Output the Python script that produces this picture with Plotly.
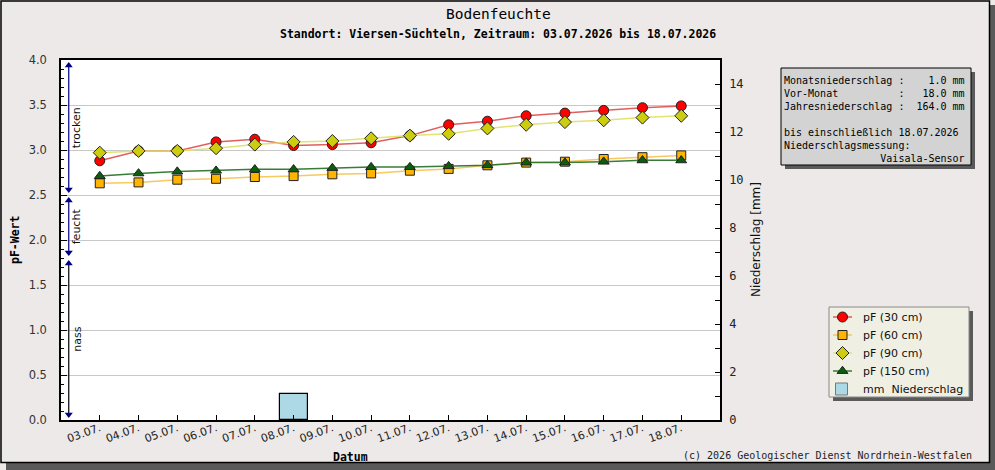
import plotly.graph_objects as go

# ---------------- data ----------------
dates = ["03.07.", "04.07.", "05.07.", "06.07.", "07.07.", "08.07.", "09.07.", "10.07.",
         "11.07.", "12.07.", "13.07.", "14.07.", "15.07.", "16.07.", "17.07.", "18.07."]
pf_30 = [2.88, 2.99, 2.99, 3.09, 3.12, 3.05, 3.06, 3.08, 3.16, 3.28, 3.32, 3.38, 3.41, 3.44, 3.47, 3.49]
pf_60 = [2.63, 2.64, 2.67, 2.68, 2.70, 2.71, 2.73, 2.74, 2.77, 2.79, 2.83, 2.86, 2.87, 2.90, 2.92, 2.94]
pf_90 = [2.97, 2.99, 2.99, 3.02, 3.06, 3.09, 3.10, 3.13, 3.16, 3.18, 3.24, 3.28, 3.31, 3.33, 3.36, 3.38]
pf_150 = [2.71, 2.74, 2.76, 2.77, 2.785, 2.785, 2.80, 2.81, 2.81, 2.82, 2.83, 2.86, 2.86, 2.87, 2.885, 2.885]
precip_dates = ["08.07."]
precip_mm = [1.1]

zones = [("trocken", 2.5, 4.0), ("feucht", 1.8, 2.5), ("nass", 0.0, 1.8)]
monthly_precip = 1.0
prev_month_precip = 18.0
year_precip = 164.0
until_date = "18.07.2026"
sensor = "Vaisala-Sensor"

title = "Bodenfeuchte"
subtitle = "Standort: Viersen-Süchteln, Zeitraum: 03.07.2026 bis 18.07.2026"
footer = "(c) 2026 Geologischer Dienst Nordrhein-Westfalen"
precip_name = "mm\u00a0\u00a0Niederschlag"

# ---------------- layout helpers (paper = whole figure) ----------------
W, H = 995, 470
PL, PR, PT, PB = 61, 720, 60, 420      # plot area in pixels
LGX0, LGX1, LGY0, LGY1 = 829, 969, 307, 397  # legend box in pixels


def px(p):
    return p / W


def py(p):
    return 1 - p / H


idx = list(range(len(dates)))
pos = {d: i for i, d in enumerate(dates)}

MONO = "DejaVu Sans Mono"
SANS = "DejaVu Sans"

fig = go.Figure()

series = [
    ("pF (30 cm)", pf_30, "circle", 10, "#FF0000", "rgba(215,40,40,0.75)"),
    ("pF (60 cm)", pf_60, "square", 9, "#FFB400", "rgba(245,195,80,0.9)"),
    ("pF (90 cm)", pf_90, "diamond", 10, "#CCCC10", "rgba(225,225,110,0.95)"),
    ("pF (150 cm)", pf_150, "triangle-up", 9.5, "#0B5E0B", "rgba(35,110,35,0.9)"),
]
for name, vals, sym, size, mcol, lcol in series:
    fig.add_trace(go.Scatter(
        x=idx, y=vals, name=name, mode="lines+markers",
        line=dict(color=lcol, width=1.5),
        marker=dict(symbol=sym, size=size, color=mcol, line=dict(color="#222", width=1)),
    ))

# zone arrows
arrow_x = -0.8
for label, lo, hi in zones:
    col = "#000000" if label == "nass" else "#000080"
    fig.add_trace(go.Scatter(
        x=[arrow_x, arrow_x], y=[lo + 0.04, hi - 0.04], mode="lines",
        line=dict(color=col, width=1.2), hoverinfo="skip"))
    fig.add_trace(go.Scatter(
        x=[arrow_x, arrow_x], y=[lo + 0.06, hi - 0.06], mode="markers",
        marker=dict(symbol=["triangle-down", "triangle-up"], size=7, color="#000080", line=dict(width=0)),
        hoverinfo="skip"))
    fig.add_annotation(x=arrow_x, y=(lo + hi) / 2, xref="x", yref="y", text=label,
                       textangle=-90, showarrow=False, xshift=8, xanchor="center", yanchor="middle",
                       font=dict(family=SANS, size=11, color="#111"))

fig.add_trace(go.Bar(
    x=[pos[d] for d in precip_dates], y=precip_mm, name=precip_name,
    yaxis="y2", width=0.72, marker=dict(color="#ADD8E6", line=dict(color="#000", width=1.2)),
))

# ---------------- custom legend (own small axes) ----------------
row_h = 18
for i, (name, vals, sym, size, mcol, lcol) in enumerate(series):
    ry = 10 + i * row_h
    fig.add_trace(go.Scatter(x=[4, 23], y=[ry, ry], mode="lines", xaxis="x3", yaxis="y3",
                             line=dict(color=lcol, width=1.5), hoverinfo="skip"))
    fig.add_trace(go.Scatter(x=[13.5], y=[ry], mode="markers", xaxis="x3", yaxis="y3",
                             marker=dict(symbol=sym, size=size, color=mcol, line=dict(color="#222", width=1)),
                             hoverinfo="skip"))
    fig.add_annotation(x=32, y=ry, xref="x3", yref="y3", text=name, showarrow=False,
                       xanchor="left", yanchor="middle", font=dict(family=SANS, size=11, color="#111"))
ry = 10 + len(series) * row_h
fig.add_trace(go.Scatter(x=[12.5], y=[ry], mode="markers", xaxis="x3", yaxis="y3",
                         marker=dict(symbol="square", size=12, color="#ADD8E6", line=dict(color="#777", width=1)),
                         hoverinfo="skip"))
fig.add_annotation(x=32, y=ry, xref="x3", yref="y3", text=precip_name, showarrow=False,
                   xanchor="left", yanchor="middle", font=dict(family=SANS, size=11, color="#111"))

fig.update_layout(
    width=W, height=H,
    margin=dict(l=0, r=0, t=0, b=0, pad=0, autoexpand=False),
    paper_bgcolor="#ECE9E8", plot_bgcolor="#FFFFFF",
    showlegend=False,
    xaxis=dict(domain=[px(PL), px(PR)], range=[-1, len(dates)], tickvals=idx, ticktext=dates,
               tickangle=-20, anchor="y", automargin=False,
               ticks="inside", ticklen=5, tickcolor="#000", showgrid=False, zeroline=False,
               showline=True, linecolor="#000", linewidth=1.5, mirror=True,
               ticklabelstandoff=-4,
               tickfont=dict(family=SANS, size=11, color="#222")),
    yaxis=dict(domain=[py(PB), py(PT)], range=[0, 4], dtick=0.5, tickformat=".1f", anchor="x",
               automargin=False, ticks="inside", ticklen=6,
               tickcolor="#000", showgrid=True, gridcolor="#C8C8C8", gridwidth=1,
               zeroline=False, showline=True, linecolor="#000", linewidth=1.5, mirror=True,
               ticklabelstandoff=10,
               minor=dict(dtick=0.1, ticks="inside", ticklen=3, tickcolor="#000", showgrid=False),
               tickfont=dict(family=SANS, size=11.5, color="#333")),
    yaxis2=dict(range=[0, 15], dtick=2, overlaying="y", side="right", anchor="x", ticks="inside",
                automargin=False, ticklen=5, tickcolor="#000", showgrid=False, zeroline=False,
                showline=True, linecolor="#000", linewidth=1.5, ticklabelstandoff=5,
                minor=dict(dtick=1, ticks="inside", ticklen=5, tickcolor="#000", showgrid=False),
                tickfont=dict(family=MONO, size=12, color="#222")),
    xaxis3=dict(domain=[px(LGX0), px(LGX1)], range=[0, LGX1 - LGX0], visible=False,
                anchor="y3", fixedrange=True, automargin=False),
    yaxis3=dict(domain=[py(LGY1), py(LGY0)], range=[LGY1 - LGY0, 0], visible=False,
                anchor="x3", fixedrange=True, automargin=False),
    bargap=0,
)


def text_at(x, y, text, font, **kw):
    fig.add_annotation(x=px(x), y=py(y), xref="paper", yref="paper", text=text, showarrow=False,
                       xanchor=kw.pop("xanchor", "center"), yanchor=kw.pop("yanchor", "middle"),
                       font=font, **kw)


# titles / texts
text_at(498, 14, title, dict(family=MONO, size=14.5, color="#000"))
text_at(498, 34, "<b>" + subtitle + "</b>", dict(family=MONO, size=11.5, color="#000"))
text_at(15, 240, "<b>pF-Wert</b>", dict(family=MONO, size=11.5, color="#000"), textangle=-90)
text_at(756, 240, "Niederschlag [mm]", dict(family=SANS, size=12, color="#111"), textangle=-90)
text_at(350, 457, "<b>Datum</b>", dict(family=MONO, size=11.5, color="#000"))
text_at(974, 455, footer, dict(family=MONO, size=10, color="#222"), xanchor="right")

# info box
info_lines = [
    "Monatsniederschlag : {:>6.1f} mm".format(monthly_precip),
    "Vor-Monat          : {:>6.1f} mm".format(prev_month_precip),
    "Jahresniederschlag : {:>6.1f} mm".format(year_precip),
    "",
    "bis einschließlich " + until_date,
    "Niederschlagsmessung:",
    sensor.rjust(30),
]
info_text = "<br>".join(l.replace(" ", "\u00a0") if l else "\u00a0" for l in info_lines)


def rect(x0, y0, x1, y1, **kw):
    return dict(type="rect", xref="paper", yref="paper", x0=px(x0), x1=px(x1), y0=py(y1), y1=py(y0), **kw)


shapes = [
    # figure frame shadow + frame
    rect(6, 463, 995, 470, fillcolor="#5A5A5A", line=dict(width=0), layer="below"),
    rect(989, 5, 995, 470, fillcolor="#5A5A5A", line=dict(width=0), layer="below"),
    rect(1, 1, 989.5, 462.5, fillcolor="rgba(0,0,0,0)", line=dict(color="#000", width=1.5), layer="below"),
    # info box shadow + box
    rect(785, 72, 975, 169, fillcolor="#5A5A5A", line=dict(width=0)),
    rect(781, 68, 971, 165, fillcolor="#D3D3D3", line=dict(color="#000", width=1)),
    # legend shadow + box
    rect(LGX0 + 4, LGY0 + 4, LGX1 + 4, LGY1 + 4, fillcolor="#5A5A5A", line=dict(width=0), layer="below"),
    rect(LGX0, LGY0, LGX1, LGY1, fillcolor="#EFEFE3", line=dict(color="#8A8A8A", width=1), layer="below"),
]
fig.update_layout(shapes=shapes)
fig.add_annotation(x=px(783), y=py(74), xref="paper", yref="paper", text=info_text,
                   xanchor="left", yanchor="top", align="left", showarrow=False, borderpad=0,
                   font=dict(family=MONO, size=10, color="#000"))

fig.write_html("out.html")
